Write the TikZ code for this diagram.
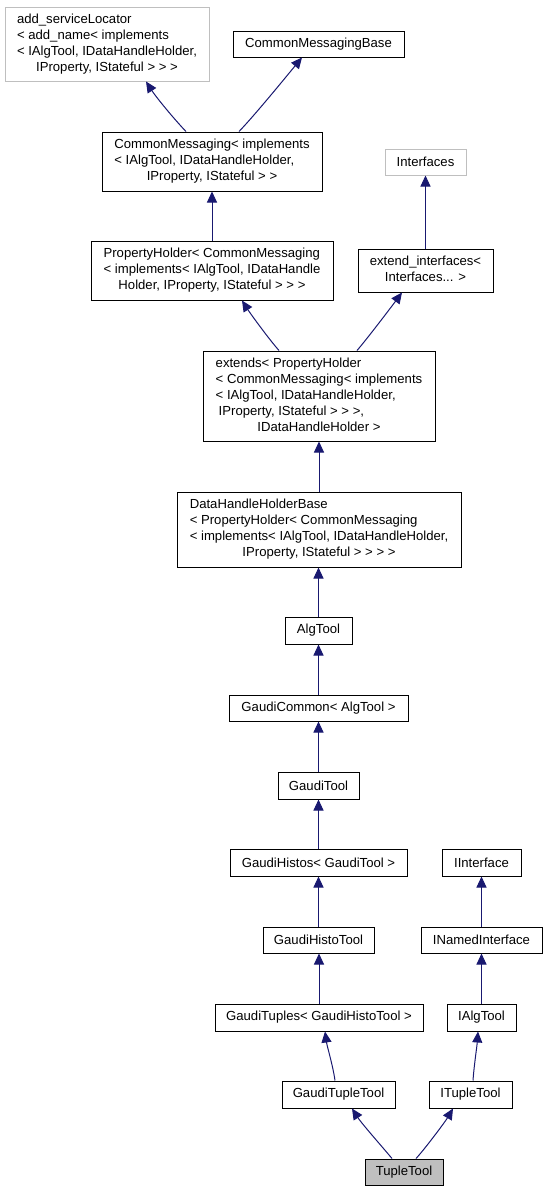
\documentclass[tikz,border=0pt]{standalone}
\usepackage{fontspec}
\setmainfont{Liberation Sans}
\usetikzlibrary{arrows.meta,calc}
\definecolor{edgeblue}{HTML}{191970}
\definecolor{lightgr}{HTML}{BFBFBF}
\newcommand{\dxlast}[1]{\multicolumn{1}{@{}c@{}}{#1}}
\begin{document}
\begin{tikzpicture}[x=0.75pt,y=-0.75pt,
  box/.style={draw=black, line width=0.75pt, inner sep=0pt, align=center, font=\fontsize{9.85}{12}\selectfont},
  graybox/.style={box, draw=lightgr},
  curbox/.style={box, fill=lightgr},
  place/.style n args={4}{minimum width={(#3-#1)*0.75pt}, minimum height={(#4-#2)*0.75pt}, at={({(#1+#3)/2},{(#2+#4)/2})}},
  edge/.style={draw=edgeblue, line width=0.75pt, -{Triangle[length=8.25pt,width=7.5pt]}}]
\useasboundingbox (0,0) rectangle (547,1192);

\node[graybox, place={5}{7}{209}{81}] (asl) {\begin{tabular}{@{}l@{}}add\_serviceLocator\\< add\_name< implements\\< IAlgTool, IDataHandleHolder,\\\dxlast{IProperty, IStateful > > >}\end{tabular}};
\node[box, place={233}{31}{404}{57}] (cmb) {CommonMessagingBase};
\node[box, place={102}{132}{322}{191}] (cm) {\begin{tabular}{@{}l@{}}CommonMessaging< implements\\< IAlgTool, IDataHandleHolder,\\\dxlast{IProperty, IStateful > >}\end{tabular}};
\node[graybox, place={385}{149}{466}{175}] (intf) {Interfaces};
\node[box, place={91}{241}{333}{300}] (ph) {\begin{tabular}{@{}l@{}}PropertyHolder< CommonMessaging\\< implements< IAlgTool, IDataHandle\\\dxlast{Holder, IProperty, IStateful > > >}\end{tabular}};
\node[box, place={358}{249}{493}{292}] (ei) {\begin{tabular}{@{}c@{}}extend\_interfaces<\\Interfaces... >\end{tabular}};
\node[box, place={203}{351}{435}{441}] (ext) {\begin{tabular}{@{}l@{}}extends< PropertyHolder\\< CommonMessaging< implements\\< IAlgTool, IDataHandleHolder,\\\hspace*{2.25pt}IProperty, IStateful > > >,\\\dxlast{IDataHandleHolder >}\end{tabular}};
\node[box, place={177}{492}{461}{567}] (dhhb) {\begin{tabular}{@{}l@{}}DataHandleHolderBase\\< PropertyHolder< CommonMessaging\\< implements< IAlgTool, IDataHandleHolder,\\\dxlast{IProperty, IStateful > > > >}\end{tabular}};
\node[box, place={285}{617}{352}{644}] (at) {AlgTool};
\node[box, place={229}{695}{408}{721}] (gc) {GaudiCommon< AlgTool >};
\node[box, place={278}{772}{359}{799}] (gt) {GaudiTool};
\node[box, place={230}{849}{407}{876}] (gh) {GaudiHistos< GaudiTool >};
\node[box, place={442}{849}{521}{876}] (ii) {IInterface};
\node[box, place={263}{927}{374}{953}] (ght) {GaudiHistoTool};
\node[box, place={421}{927}{542}{953}] (ini) {INamedInterface};
\node[box, place={215}{1004}{423}{1031}] (gtup) {GaudiTuples< GaudiHistoTool >};
\node[box, place={447}{1004}{516}{1031}] (iat) {IAlgTool};
\node[box, place={282}{1081}{395}{1108}] (gtt) {GaudiTupleTool};
\node[box, place={429}{1081}{512}{1108}] (itt) {ITupleTool};
\node[curbox, place={365}{1159}{443}{1185}] (tt) {TupleTool};

\draw[edge] ($(cm.north)+(-26,0)$) .. controls (174,119) and (156,97) .. ($(asl.south)+(39,0)$);
\draw[edge] ($(cm.north)+(27,0)$) .. controls (255,115) and (290,72) .. ($(cmb.south)+(-16.5,0)$);
\draw[edge] (ph.north) -- (cm.south);
\draw[edge] (ei.north) -- (intf.south);
\draw[edge] ($(ext.north)+(-40,0)$) .. controls (268,338) and (250,313) .. ($(ph.south)+(30,0)$);
\draw[edge] ($(ext.north)+(38,0)$) .. controls (367,339) and (392,306) .. ($(ei.south)+(-23.5,0)$);
\draw[edge] (dhhb.north) -- (ext.south);
\draw[edge] (at.north) -- (dhhb.south -| at.north);
\draw[edge] (gc.north) -- (at.south);
\draw[edge] (gt.north) -- (gc.south);
\draw[edge] (gh.north) -- (gt.south);
\draw[edge] (ght.north) -- (gh.south);
\draw[edge] (gtup.north) -- (ght.south -| gtup.north);
\draw[edge] (ini.north) -- (ii.south);
\draw[edge] (iat.north) -- (ini.south);
\draw[edge] ($(gtt.north)+(-3.5,0)$) .. controls (333,1066) and (327,1046) .. ($(gtup.south)+(6,0)$);
\draw[edge] ($(itt.north)+(2.5,0)$) .. controls (474,1066) and (477,1046) .. ($(iat.south)+(-3.5,0)$);
\draw[edge] ($(tt.north)+(-12,0)$) .. controls (385,1150) and (362,1124) .. ($(gtt.south)+(13.5,0)$);
\draw[edge] ($(tt.north)+(12,0)$) .. controls (424,1150) and (445,1122) .. ($(itt.south)+(-17.5,0)$);
\end{tikzpicture}
\end{document}
